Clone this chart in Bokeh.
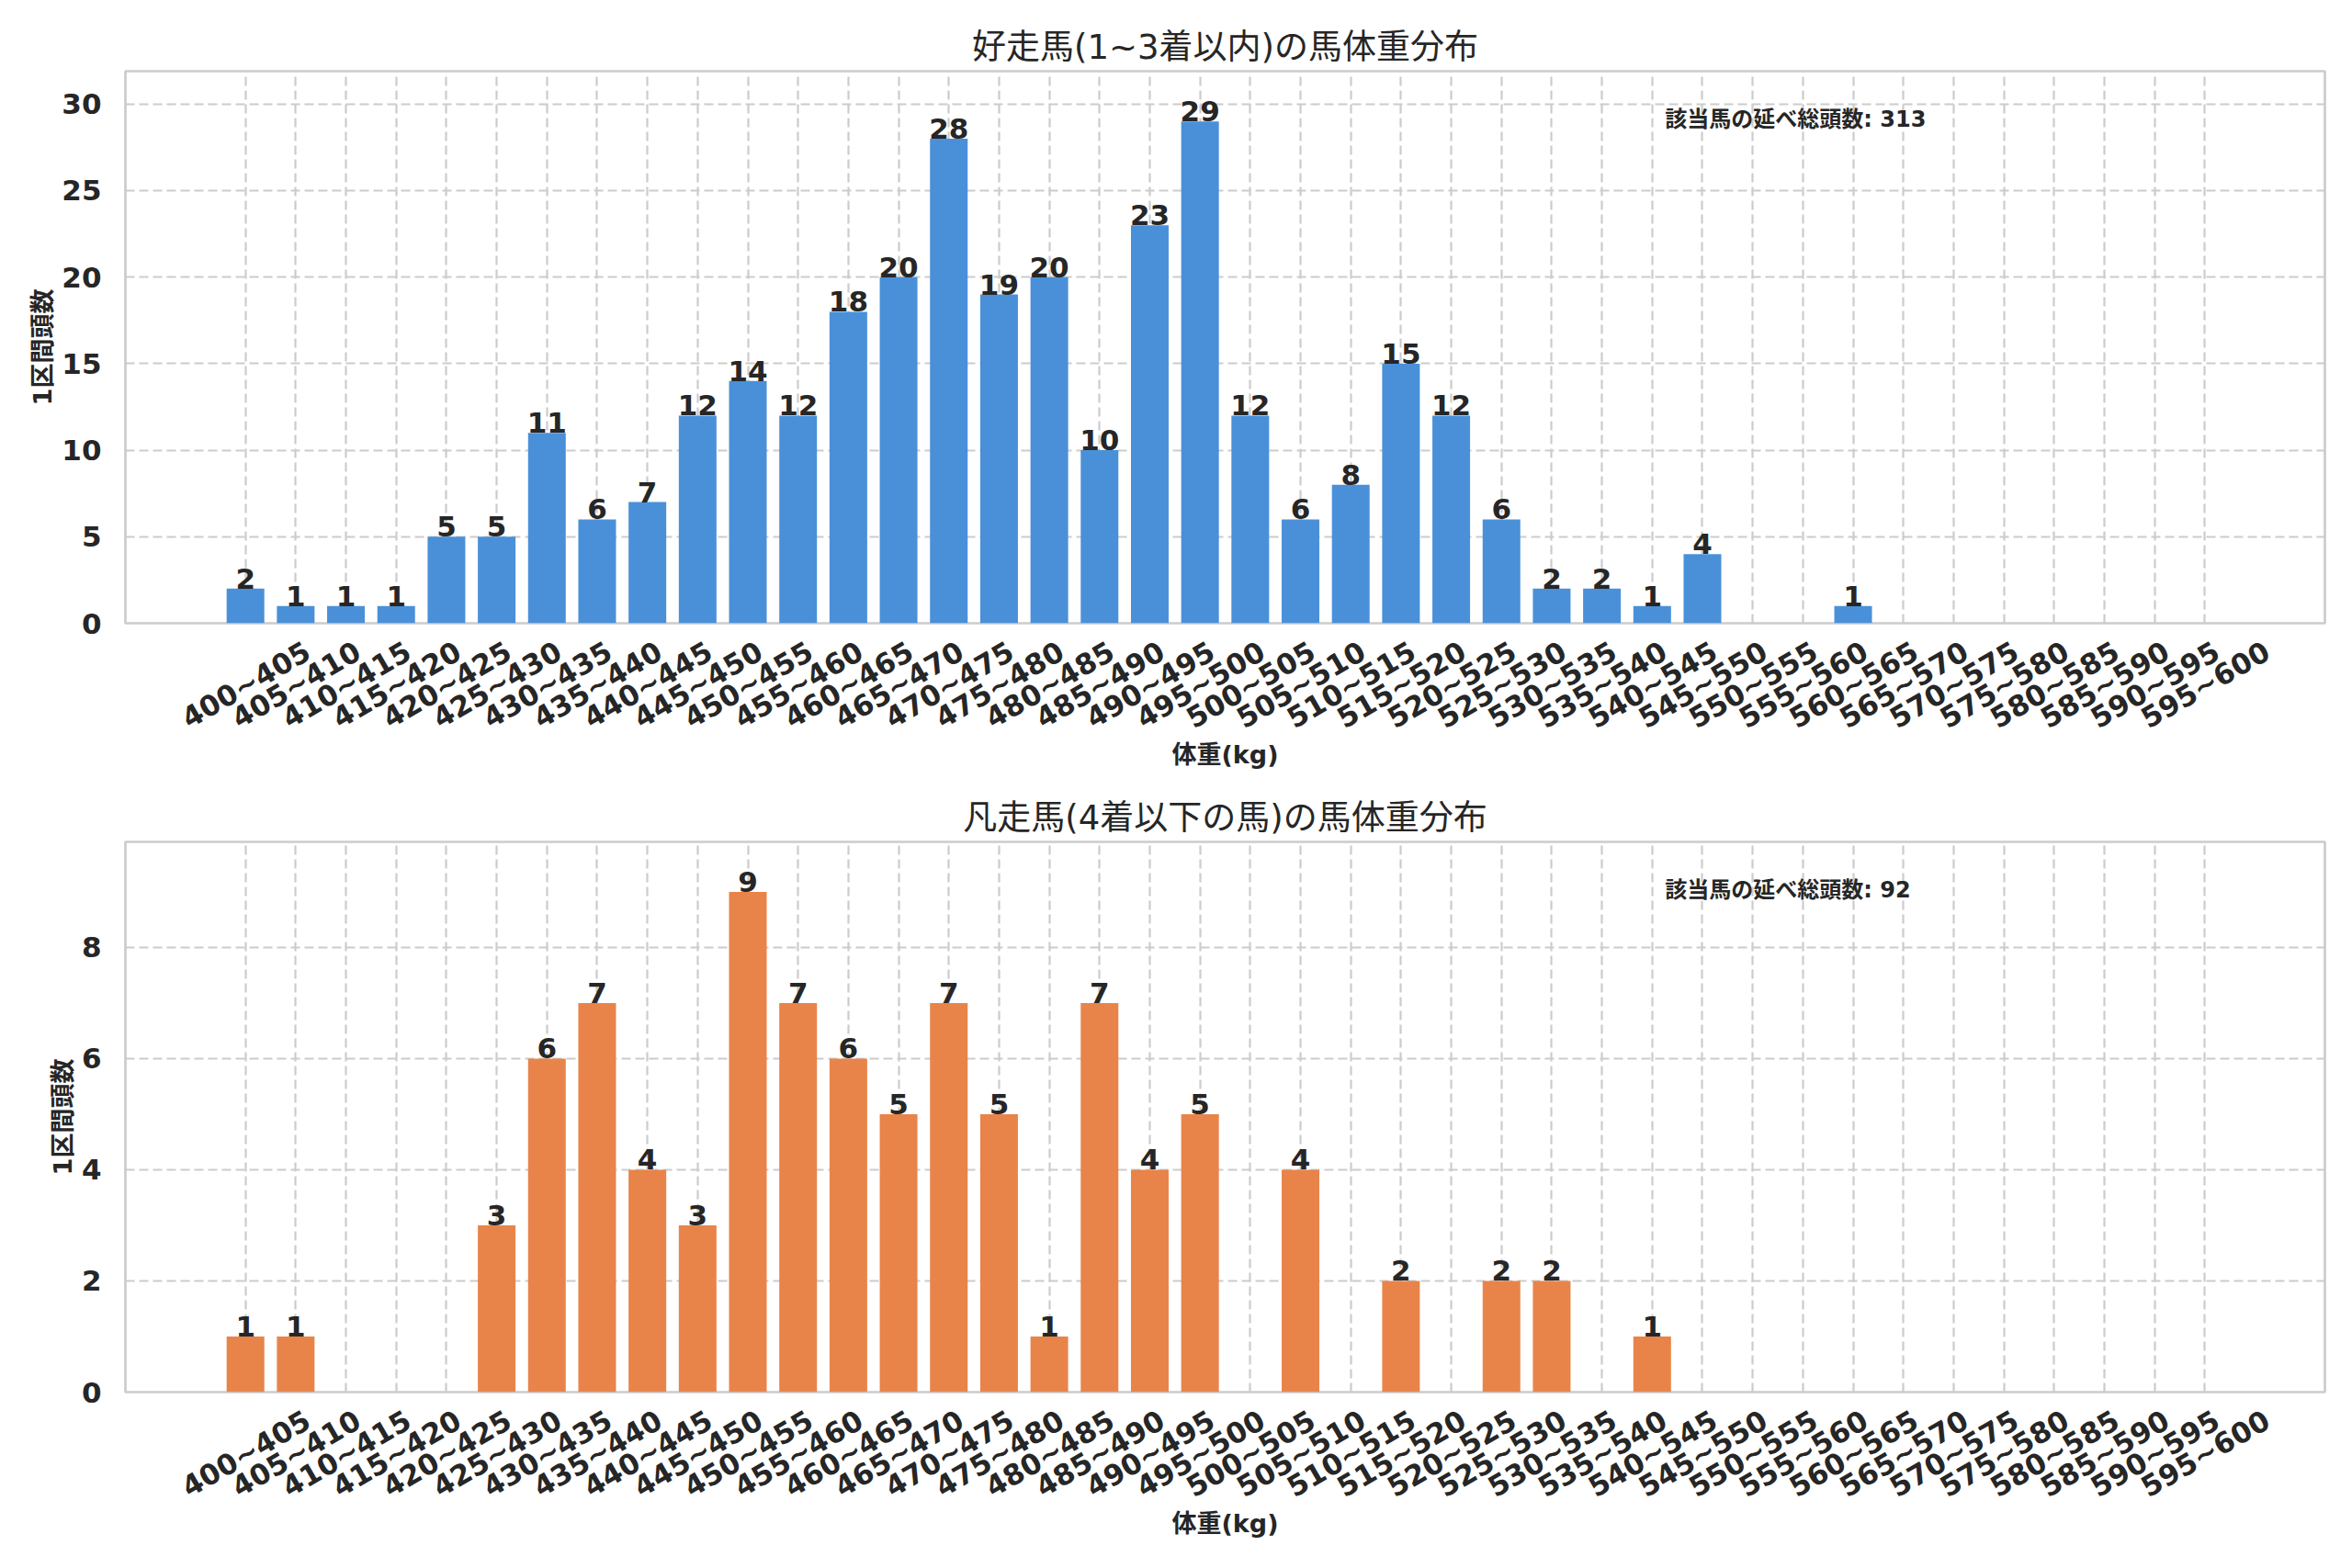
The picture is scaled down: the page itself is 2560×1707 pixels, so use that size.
import math
from bokeh.plotting import figure
from bokeh.models import (Range1d, FixedTicker, SingleIntervalTicker,
                          CustomJSTickFormatter, Label, ColumnDataSource)
from bokeh.layouts import column
from bokeh.embed import file_html
from bokeh.resources import INLINE
from bokeh.core.properties import value

# ---------------- data ----------------
bins = ["400~405", "405~410", "410~415", "415~420", "420~425", "425~430",
        "430~435", "435~440", "440~445", "445~450", "450~455", "455~460",
        "460~465", "465~470", "470~475", "475~480", "480~485", "485~490",
        "490~495", "495~500", "500~505", "505~510", "510~515", "515~520",
        "520~525", "525~530", "530~535", "535~540", "540~545", "545~550",
        "550~555", "555~560", "560~565", "565~570", "570~575", "575~580",
        "580~585", "585~590", "590~595", "595~600"]

top_counts = [2, 1, 1, 1, 5, 5, 11, 6, 7, 12,
              14, 12, 18, 20, 28, 19, 20, 10, 23, 29,
              12, 6, 8, 15, 12, 6, 2, 2, 1, 4,
              0, 0, 1, 0, 0, 0, 0, 0, 0, 0]

bottom_counts = [1, 1, 0, 0, 0, 3, 6, 7, 4, 3,
                 9, 7, 6, 5, 7, 5, 1, 7, 4, 5,
                 0, 4, 0, 2, 0, 2, 2, 0, 1, 0,
                 0, 0, 0, 0, 0, 0, 0, 0, 0, 0]

top_title = "好走馬(1~3着以内)の馬体重分布"
bottom_title = "凡走馬(4着以下の馬)の馬体重分布"
x_label = "体重(kg)"
y_label = "1区間頭数"
total_label = "該当馬の延べ総頭数"

FONT = "DejaVu Sans, Noto Sans CJK JP, sans-serif"
TXT = "#262626"
SHIFT = 1.24


def make_fig(counts, color, title, y_interval, height, border_top, border_bottom):
    n = len(bins)
    idx = list(range(n))
    ymax = max(counts) * 1.1
    p = figure(width=2552, height=height, output_backend="svg",
               toolbar_location=None,
               x_range=Range1d(-0.4 - 0.05 * (n - 0.2), n - 0.6 + 0.05 * (n - 0.2)),
               y_range=Range1d(0, ymax),
               min_border_left=136, min_border_right=22,
               min_border_top=border_top, min_border_bottom=border_bottom)
    p.background_fill_color = "white"
    p.border_fill_color = "white"
    p.outline_line_color = "#cccccc"
    p.outline_line_width = 2.7

    p.title.text = title
    p.title.align = "center"
    p.title.text_font = FONT
    p.title.text_font_size = "37px"
    p.title.text_font_style = "normal"
    p.title.text_color = TXT

    p.vbar(x=idx, top=counts, width=0.75, fill_color=color, line_color=None)

    lab_x = [i for i, c in zip(idx, counts) if c > 0]
    lab_y = [c for c in counts if c > 0]
    lab_t = [str(c) for c in counts if c > 0]
    src = ColumnDataSource(dict(x=lab_x, y=lab_y, t=lab_t))
    p.text(x="x", y="y", text="t", source=src, text_align="center",
           text_baseline="bottom", text_font=value(FONT),
           text_font_size="31px", text_font_style="bold", text_color=TXT)

    # axes
    p.xaxis.ticker = FixedTicker(ticks=[i + SHIFT for i in idx])
    p.xaxis.formatter = CustomJSTickFormatter(
        args=dict(labels=bins, shift=SHIFT),
        code="const i = Math.round(tick - shift); return (i >= 0 && i < labels.length) ? labels[i] : '';")
    p.xaxis.major_label_orientation = math.pi / 6
    p.yaxis.ticker = SingleIntervalTicker(interval=y_interval)
    for ax in (p.xaxis, p.yaxis):
        ax.axis_line_color = None
        ax.major_tick_line_color = None
        ax.minor_tick_line_color = None
        ax.major_tick_out = 0
        ax.major_tick_in = 0
        ax.major_label_text_font = FONT
        ax.major_label_text_font_style = "bold"
        ax.major_label_text_color = TXT
        ax.axis_label_text_font = FONT
        ax.axis_label_text_font_style = "bold"
        ax.axis_label_text_font_size = "27px"
        ax.axis_label_text_color = TXT
    p.xaxis.major_label_text_font_size = "31px"
    p.yaxis.major_label_text_font_size = "31px"
    p.xaxis.major_label_standoff = 28
    p.yaxis.major_label_standoff = 22
    p.xaxis.axis_label = x_label
    p.yaxis.axis_label = y_label
    p.xaxis.axis_label_standoff = -12
    p.yaxis.axis_label_standoff = 2

    # grid
    p.xgrid[0].ticker = FixedTicker(ticks=idx)
    p.grid.grid_line_color = "#cccccc"
    p.grid.grid_line_width = 2.2
    p.grid.grid_line_dash = "10 5"

    n_range = p.x_range.end - p.x_range.start
    total = sum(counts)
    p.add_layout(Label(x=p.x_range.start + 0.7 * n_range, y=ymax * 0.913,
                       text=f"{total_label}: {total}", text_align="left",
                       text_baseline="middle", text_font=FONT,
                       text_font_size="24px", text_font_style="bold",
                       text_color=TXT))
    return p


p1 = make_fig(top_counts, "#4A90D9", top_title, 5, 858, 77, 180)
p2 = make_fig(bottom_counts, "#E8844A", bottom_title, 2, 822, 58, 165)

layout = column(p1, p2, spacing=0)
open("out.html", "w").write(file_html(layout, INLINE))
